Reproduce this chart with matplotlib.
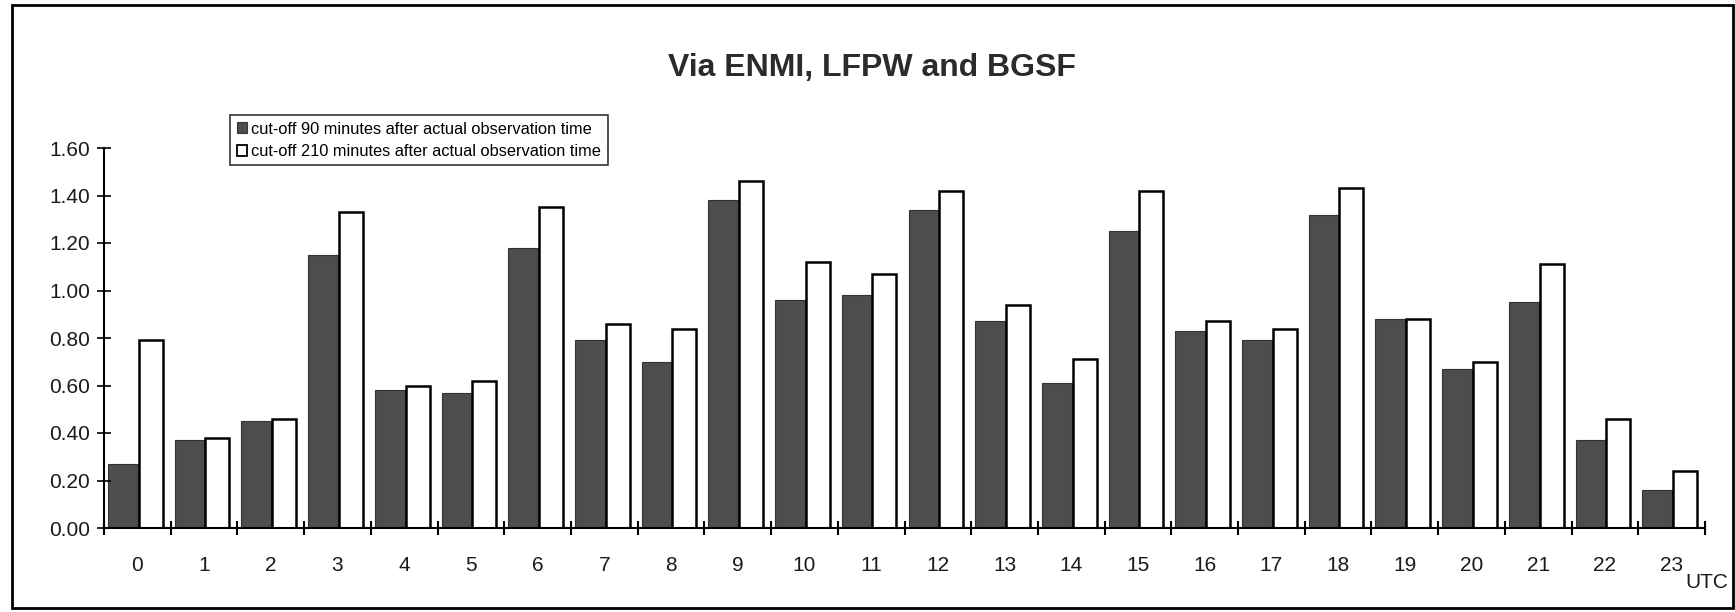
import matplotlib
matplotlib.use("Agg")
from matplotlib import pyplot as plt
from matplotlib.patches import Rectangle, Patch

plt.rcParams['font.family'] = ['Liberation Sans', 'DejaVu Sans']

# Data
hours = [str(h) for h in range(24)]
cutoff_90 = [0.27, 0.37, 0.45, 1.15, 0.58, 0.57, 1.18, 0.79, 0.70, 1.38, 0.96, 0.98,
             1.34, 0.87, 0.61, 1.25, 0.83, 0.79, 1.32, 0.88, 0.67, 0.95, 0.37, 0.16]
cutoff_210 = [0.79, 0.38, 0.46, 1.33, 0.60, 0.62, 1.35, 0.86, 0.84, 1.46, 1.12, 1.07,
              1.42, 0.94, 0.71, 1.42, 0.87, 0.84, 1.43, 0.88, 0.70, 1.11, 0.46, 0.24]
labels = ['cut-off 90 minutes after actual observation time',
          'cut-off 210 minutes after actual observation time']
yticks = [0.0, 0.2, 0.4, 0.6, 0.8, 1.0, 1.2, 1.4, 1.6]

W, H = 1735, 612
fig = plt.figure(figsize=(W / 100, H / 100), dpi=100)
ax = fig.add_axes([104 / W, 1 - 528 / H, (1705 - 104) / W, (528 - 148) / H])

x = list(range(len(hours)))
dark = '#4d4d4d'
ax.bar([i - 0.44 for i in x], cutoff_90, width=0.45, align='edge',
       color=dark, edgecolor='#333333', linewidth=0.8)
ax.bar([i + 0.02 for i in x], cutoff_210, width=0.36, align='edge',
       color='white', edgecolor='black', linewidth=1.8)

ax.set_xlim(-0.5, 23.5)
ax.set_ylim(0, 1.6)

for s in ['top', 'right']:
    ax.spines[s].set_visible(False)
for s in ['left', 'bottom']:
    ax.spines[s].set_linewidth(1.5)

ax.set_yticks(yticks)
ax.set_yticklabels([f'{v:.2f}' for v in yticks], fontsize=15, color='#1a1a1a')
ax.tick_params(axis='y', direction='inout', length=10, width=1.2, pad=5)

ax.set_xticks(x)
ax.set_xticklabels(hours, fontsize=15, color='#1a1a1a')
ax.tick_params(axis='x', which='major', length=0, pad=20)
ax.set_xticks([i - 0.5 for i in range(25)], minor=True)
ax.tick_params(axis='x', which='minor', direction='inout', length=10, width=1.5)

fig.text(1707 / W, 1 - 582 / H, 'UTC', fontsize=15, color='#1a1a1a',
         ha='center', va='center')

fig.text(872 / W, 1 - 68 / H, 'Via ENMI, LFPW and BGSF', fontsize=23,
         fontweight='bold', color='#2b2b2b', ha='center', va='center')

handles = [Patch(facecolor=dark, edgecolor='#333333', linewidth=0.8),
           Patch(facecolor='white', edgecolor='black', linewidth=1.3)]
leg = fig.legend(handles, labels, loc='upper left',
                 bbox_to_anchor=(230 / W, 1 - 115 / H), fontsize=11.8,
                 frameon=True, fancybox=False, edgecolor='black',
                 handlelength=0.65, handleheight=0.65, handletextpad=0.25,
                 borderpad=0.4, labelspacing=0.45, borderaxespad=0)
leg.get_frame().set_linewidth(1.2)

fig.patches.append(Rectangle((12 / W, 1 - 608 / H), (1733 - 12) / W, (608 - 5) / H,
                             transform=fig.transFigure, fill=False,
                             edgecolor='black', linewidth=2))

fig.savefig('out.png', dpi=100)
